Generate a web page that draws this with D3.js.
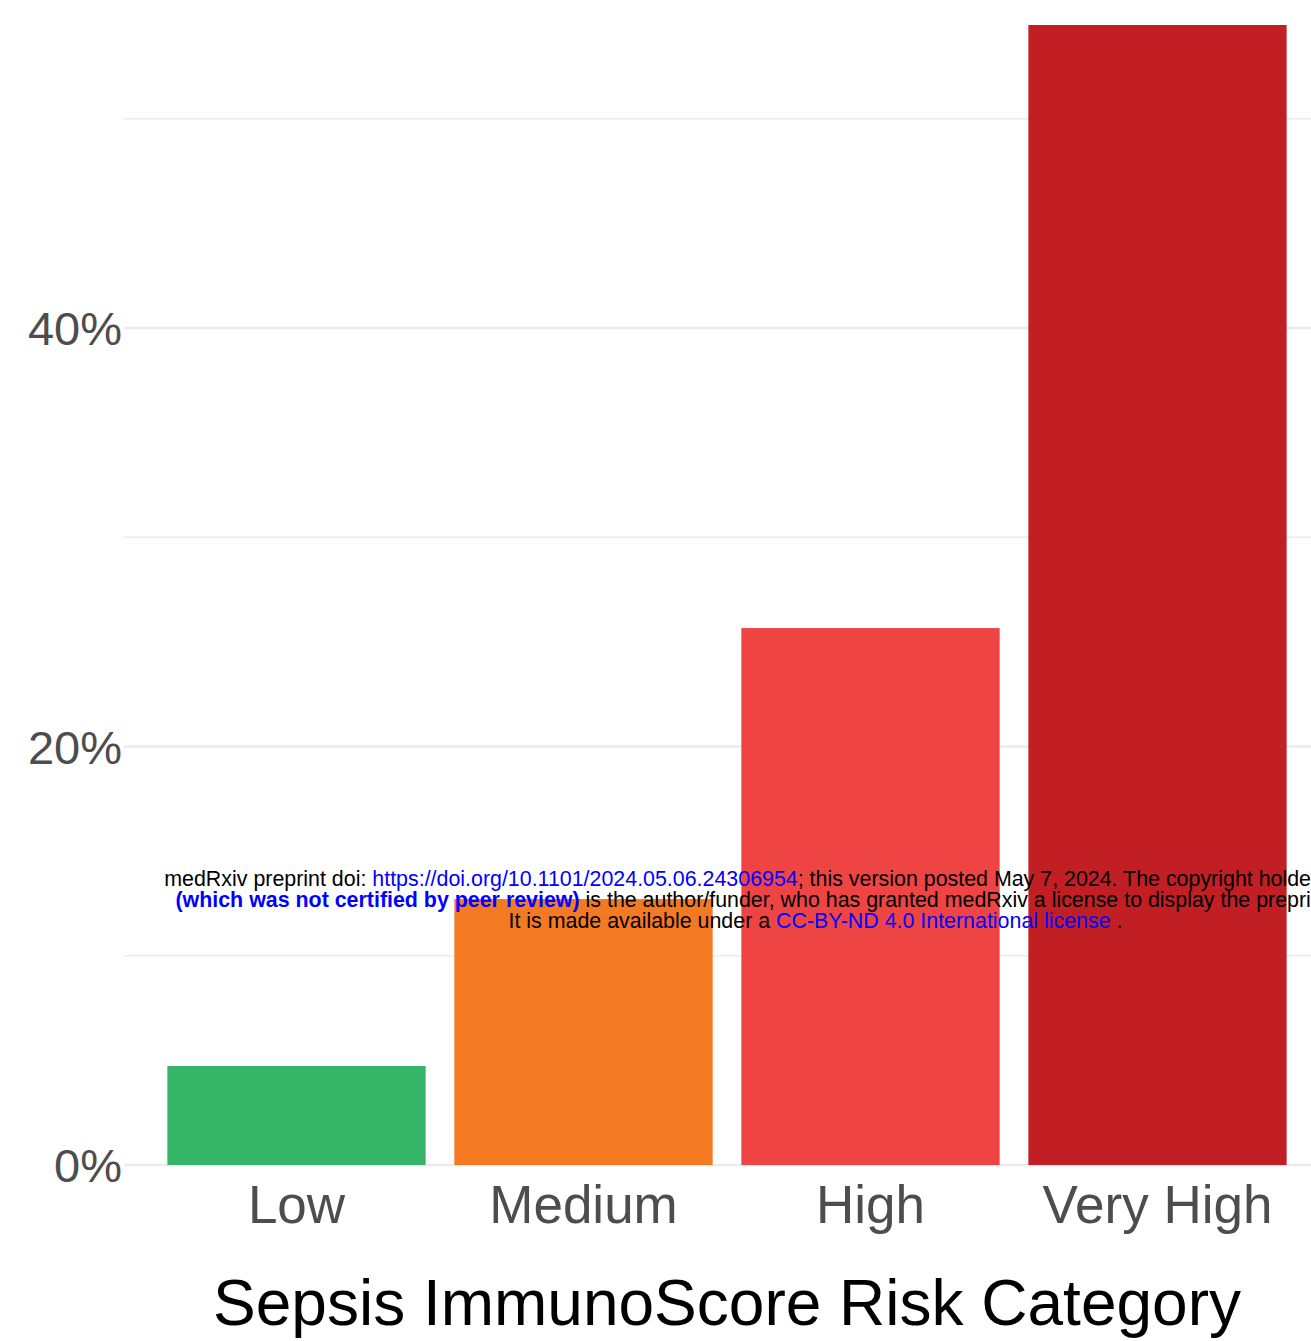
<!DOCTYPE html>
<html>
<head>
<meta charset="utf-8">
<script src="https://cdn.jsdelivr.net/npm/d3@7"></script>
<style>
  html, body { margin: 0; padding: 0; background: #ffffff; overflow: hidden; }
  svg { display: block; font-family: "Liberation Sans", Arial, Helvetica, sans-serif; }
</style>
</head>
<body>
<svg id="chart" width="1311" height="1341"></svg>
<script>
// ---- data ----
const categories = ["Low", "Medium", "High", "Very High"];
const values = [4.73, 12.71, 25.66, 54.48];        // percent
const barColors = ["#35b567", "#f37a23", "#ee4443", "#c21f25"];
const majorTicks = [0, 20, 40];
const minorTicks = [10, 30, 50];
const xTitle = "Sepsis ImmunoScore Risk Category";

// ---- layout ----
const W = 1311, H = 1341;
const svg = d3.select("#chart");

const x = d3.scaleBand()
  .domain(categories)
  .range([124.3, 1329.7])
  .paddingInner(0.1)
  .paddingOuter(0.15);

const y = d3.scaleLinear()
  .domain([0, 40])
  .range([1165, 328]);

const gridX0 = 124, gridX1 = W;

// minor gridlines
svg.append("g").selectAll("line").data(minorTicks).join("line")
  .attr("x1", gridX0).attr("x2", gridX1)
  .attr("y1", d => y(d)).attr("y2", d => y(d))
  .attr("stroke", "#ebebeb").attr("stroke-width", 1.4);

// major gridlines
svg.append("g").selectAll("line").data(majorTicks).join("line")
  .attr("x1", gridX0).attr("x2", gridX1)
  .attr("y1", d => y(d)).attr("y2", d => y(d))
  .attr("stroke", "#ebebeb").attr("stroke-width", 2.6);

// bars
svg.append("g").selectAll("rect").data(categories).join("rect")
  .attr("x", d => x(d))
  .attr("width", x.bandwidth())
  .attr("y", (d, i) => y(values[i]))
  .attr("height", (d, i) => y(0) - y(values[i]))
  .attr("fill", (d, i) => barColors[i]);

// y axis labels
const yAxis = d3.axisLeft(y).tickValues(majorTicks).tickSize(0).tickPadding(0)
  .tickFormat(d => d + "%");
const gy = svg.append("g").attr("transform", "translate(122,0)").call(yAxis);
gy.select(".domain").remove();
gy.selectAll("text")
  .attr("fill", "#4d4d4d")
  .style("font-size", "47px")
  .style("font-family", "'Liberation Sans', Arial, Helvetica, sans-serif")
  .attr("dy", "0.36em");

// x axis labels
const xAxis = d3.axisBottom(x).tickSize(0).tickPadding(0);
const gx = svg.append("g").attr("transform", "translate(0,1223)").call(xAxis);
gx.select(".domain").remove();
gx.selectAll("text")
  .attr("fill", "#4d4d4d")
  .attr("dy", 0)
  .style("font-size", "53px")
  .style("font-family", "'Liberation Sans', Arial, Helvetica, sans-serif");

// x title
svg.append("text")
  .attr("x", (x.range()[0] + x.range()[1]) / 2)
  .attr("y", 1325)
  .attr("text-anchor", "middle")
  .attr("fill", "#000000")
  .style("font-size", "64px")
  .text(xTitle);

// medRxiv watermark
const wm = svg.append("g").style("font-size", "21.4px").attr("text-anchor", "middle");
const cx = 815.5;
const l1 = wm.append("text").attr("x", cx).attr("y", 886);
l1.append("tspan").attr("fill", "#000").text("medRxiv preprint doi: ");
l1.append("tspan").attr("fill", "#0000ff").text("https://doi.org/10.1101/2024.05.06.24306954");
l1.append("tspan").attr("fill", "#000").text("; this version posted May 7, 2024. The copyright holder for this preprint");
const l2 = wm.append("text").attr("x", cx).attr("y", 907);
l2.append("tspan").attr("fill", "#0000ff").attr("font-weight", "bold").text("(which was not certified by peer review)");
l2.append("tspan").attr("fill", "#000").text(" is the author/funder, who has granted medRxiv a license to display the preprint in perpetuity.");
const l3 = wm.append("text").attr("x", cx).attr("y", 928);
l3.append("tspan").attr("fill", "#000").text("It is made available under a ");
l3.append("tspan").attr("fill", "#0000ff").text("CC-BY-ND 4.0 International license");
l3.append("tspan").attr("fill", "#000").text(" .");
</script>
</body>
</html>
